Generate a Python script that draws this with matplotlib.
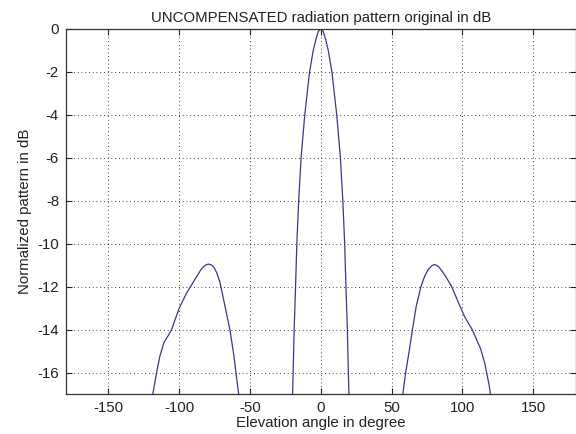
import matplotlib
matplotlib.use("Agg")
import matplotlib.pyplot as plt
import numpy as np

plt.rcParams['font.family'] = ['Liberation Sans', 'DejaVu Sans']

# (elevation angle in degrees, normalized pattern in dB)
angles_left = [-124, -118.9, -116, -113.7, -110.8, -108, -105.4, -100, -94.8, -88.9, -84.2,
               -81.5, -79.5, -77.5, -75.5, -73.5, -71.2, -67.7, -64.2, -61.3, -59.0, -57.8, -56]
db_left = [-19.0, -17.1, -16.0, -15.25, -14.6, -14.3, -14.0, -13.0, -12.3, -11.66, -11.16,
           -11.0, -10.95, -10.98, -11.1, -11.35, -11.8, -12.9, -14.0, -15.25, -16.5, -17.1, -19.0]

angles_main = [-21, -19.9, -19.5, -18.8, -17.8, -16.9, -15.6, -13.9, -11.3, -7.9, -5.3, -3.5,
               -1.8, 0, 1.8, 3.5, 5.3, 7.9, 11.3, 13.9, 15.6, 16.9, 17.8, 18.8, 19.5, 19.9, 21]
db_main = [-19.0, -17.0, -16.0, -14.0, -12.0, -10.0, -8.0, -6.0, -4.0, -2.0, -1.0, -0.5,
           -0.12, 0.0, -0.12, -0.5, -1.0, -2.0, -4.0, -6.0, -8.0, -10.0, -12.0, -14.0, -16.0,
           -17.0, -19.0]

angles_right = [56, 57.8, 60, 62.5, 64.8, 67.5, 70.8, 73.5, 76, 78.5, 80.5, 83, 85.5, 88.5,
                92.5, 97, 101.7, 107, 113, 116, 119, 124]
db_right = [-19.0, -17.1, -16.0, -15.0, -14.0, -12.9, -12.0, -11.5, -11.2, -11.02, -10.97,
            -11.05, -11.25, -11.55, -12.0, -12.7, -13.4, -14.0, -14.9, -15.6, -16.6, -19.0]

angles = angles_left + [None] + angles_main + [None] + angles_right
db = db_left + [None] + db_main + [None] + db_right

xticks = [-150, -100, -50, 0, 50, 100, 150]
yticks = [0, -2, -4, -6, -8, -10, -12, -14, -16]

fig = plt.figure(figsize=(5.76, 4.34), dpi=100)
ax = fig.add_axes([66/576, 40/434, (575.5-66)/576, (405-40)/434])

a = np.array([np.nan if v is None else v for v in angles], dtype=float)
d = np.array([np.nan if v is None else v for v in db], dtype=float)
ax.plot(a, d, color='#333a8c', linewidth=0.9)

ax.set_xlim(-180, 180)
ax.set_ylim(-17, 0)
ax.set_xticks(xticks)
ax.set_yticks(yticks)
ax.set_xticklabels([str(t) for t in xticks])
ax.set_yticklabels([str(t) for t in yticks])
ax.grid(True, color='black', linestyle=(0, (1, 3.5)), linewidth=0.6)
ax.tick_params(direction='in', length=4, width=0.8, top=True, right=True,
               labelsize=10.8, colors='#222222', pad=5)
for s in ax.spines.values():
    s.set_linewidth(0.9)
    s.set_color('#333333')

ax.set_title('UNCOMPENSATED radiation pattern original in dB', fontsize=10.8, pad=5, color='#222222')
ax.set_xlabel('Elevation angle in degree', fontsize=10.8, labelpad=1, color='#222222')
ax.set_ylabel('Normalized pattern in dB', fontsize=10.8, labelpad=4, color='#222222')

fig.savefig('out.png', dpi=100)
